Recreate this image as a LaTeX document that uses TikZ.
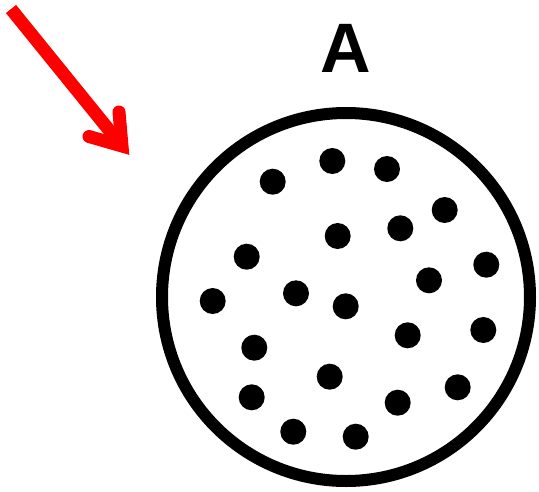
\documentclass[tikz,border=0pt]{standalone}
\usepackage{fontspec}
\setmainfont{Liberation Sans}
\begin{document}
\begin{tikzpicture}[x=1pt,y=-1pt,
  dot/.style={circle,fill=black,inner sep=0pt,minimum size=26pt},
  arrowline/.style={draw=red,line width=13pt}]
\useasboundingbox (0,0) rectangle (539,491);
\node[inner sep=0pt,anchor=base] (lbl) at (346,72.5) {\fontsize{70}{70}\selectfont\bfseries A};
\node[circle,draw=black,line width=12pt,minimum size=368pt,inner sep=0pt] (cell) at (346,297) {};
\foreach \x/\y [count=\i] in {272.7/181.7,332.3/161,387/169,444.7/210,337.7/236,400.3/228.3,246.7/256.7,486.3/264.7,429/280.3,212.7/301,296/293.3,345.7/306.3,407.7/335.3,483.3/330,254.3/347.7,329.7/376.7,251.7/397.3,397.7/402.7,457.7/387.3,293.3/431.7,355.7/436.7}
  \node[dot] (d\i) at (\x,\y) {};
\coordinate (tail) at (11,9);
\coordinate (tip) at (122,146);
\coordinate (armA) at (119,112);
\coordinate (armB) at (89,136.5);
\draw[arrowline] (tail) -- (tip);
\draw[arrowline,line cap=round,line join=miter] (armA) -- (tip) -- (armB);
\end{tikzpicture}
\end{document}
